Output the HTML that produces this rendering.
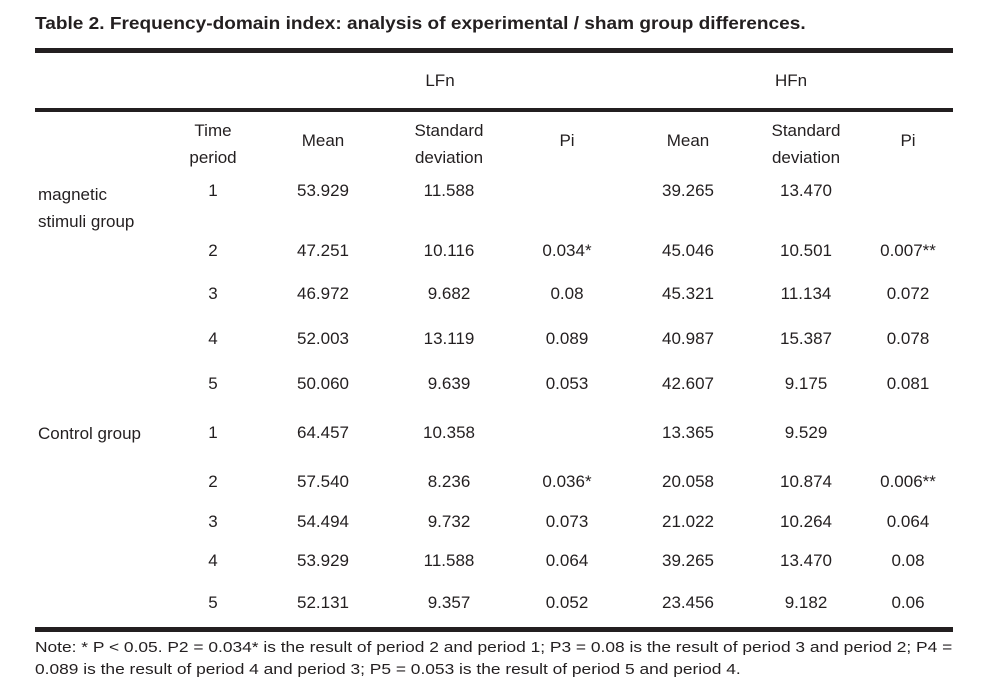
<!DOCTYPE html>
<html><head><meta charset="utf-8"><style>
body{margin:0;width:987px;height:697px;background:#fff;position:relative;font-family:"Liberation Sans",Arial,sans-serif;color:#231f20;overflow:hidden}
.t{position:absolute;font-size:17px;white-space:nowrap;line-height:20px}
.c{transform:translateX(-50%);text-align:center}
.line{position:absolute;left:35px;width:918px;background:#231f20}
</style></head><body>
<div class="t" style="left:35px;top:13px;font-weight:bold;font-size:17.5px;transform:scaleX(1.089);transform-origin:0 0">Table 2. Frequency-domain index: analysis of experimental / sham group differences.</div>
<div class="line" style="top:48px;height:5px"></div>
<div class="t c" style="left:440px;top:71px">LFn</div>
<div class="t c" style="left:791px;top:71px">HFn</div>
<div class="line" style="top:108px;height:4px"></div>
<div class="t c" style="left:213px;top:117px;line-height:27px">Time<br>period</div>
<div class="t c" style="left:323px;top:131px">Mean</div>
<div class="t c" style="left:449px;top:117px;line-height:27px">Standard<br>deviation</div>
<div class="t c" style="left:567px;top:131px">Pi</div>
<div class="t c" style="left:688px;top:131px">Mean</div>
<div class="t c" style="left:806px;top:117px;line-height:27px">Standard<br>deviation</div>
<div class="t c" style="left:908px;top:131px">Pi</div>
<div class="t" style="left:38px;top:181px;line-height:27px">magnetic<br>stimuli group</div>
<div class="t" style="left:38px;top:424px">Control group</div>
<div id="rows"></div>
<div class="line" style="top:627px;height:5px"></div>
<div class="t" style="left:35px;top:637px;font-size:15px;line-height:22px;transform:scaleX(1.157);transform-origin:0 0">Note: * P &lt; 0.05. P2 = 0.034* is the result of period 2 and period 1; P3 = 0.08 is the result of period 3 and period 2; P4 =<br>0.089 is the result of period 4 and period 3; P5 = 0.053 is the result of period 5 and period 4.</div>
<script>
var rows=[[181,"1","53.929","11.588","","39.265","13.470",""],
[241,"2","47.251","10.116","0.034*","45.046","10.501","0.007**"],
[284,"3","46.972","9.682","0.08","45.321","11.134","0.072"],
[329,"4","52.003","13.119","0.089","40.987","15.387","0.078"],
[374,"5","50.060","9.639","0.053","42.607","9.175","0.081"],
[423,"1","64.457","10.358","","13.365","9.529",""],
[472,"2","57.540","8.236","0.036*","20.058","10.874","0.006**"],
[512,"3","54.494","9.732","0.073","21.022","10.264","0.064"],
[551,"4","53.929","11.588","0.064","39.265","13.470","0.08"],
[593,"5","52.131","9.357","0.052","23.456","9.182","0.06"]];
var xs=[213,323,449,567,688,806,908],h="";
rows.forEach(function(r){for(var i=0;i<7;i++)h+='<div class="t c" style="left:'+xs[i]+'px;top:'+r[0]+'px">'+r[i+1]+'</div>';});
document.getElementById("rows").innerHTML=h;
</script>
</body></html>
